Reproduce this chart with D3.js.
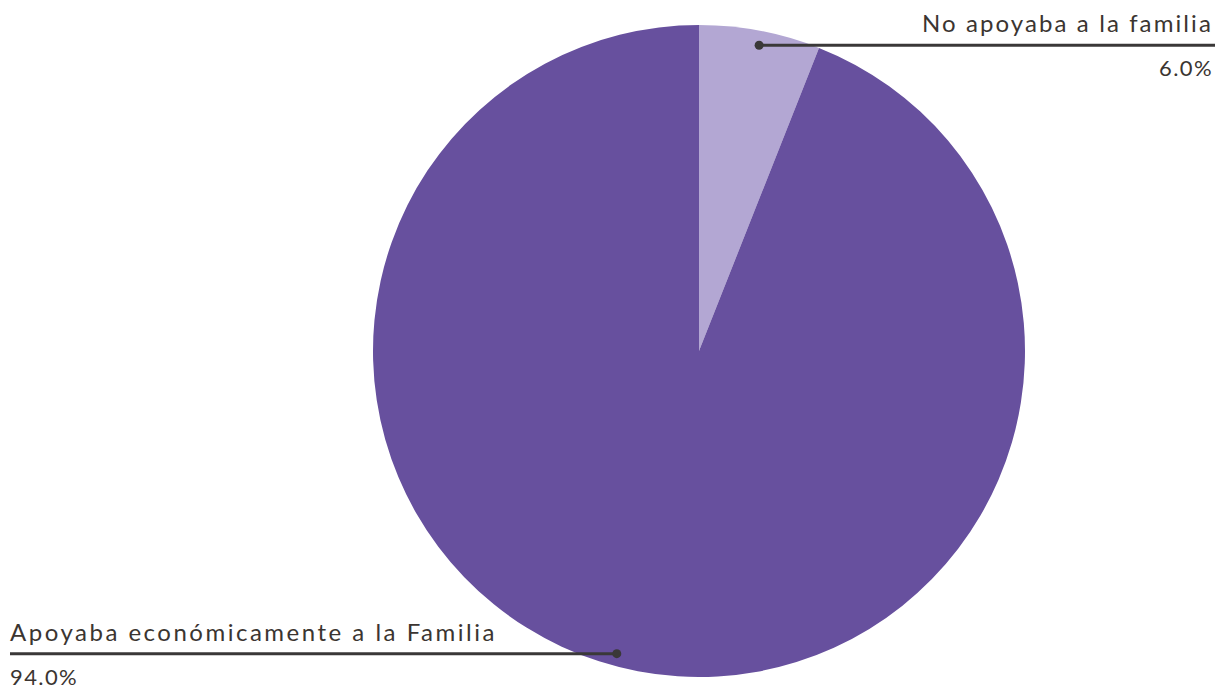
<!DOCTYPE html>
<html>
<head>
<meta charset="utf-8">
<script src="https://cdn.jsdelivr.net/npm/d3@7"></script>
<style>
  html, body { margin: 0; padding: 0; background: #fff; overflow: hidden; }
  svg { display: block; font-family: "Lato", "Noto Sans", sans-serif; }
</style>
</head>
<body>
<svg id="chart" width="1220" height="685"></svg>
<script>
// Shares of respondents by whether they supported their family
const categories = ["No apoyaba a la familia", "Apoyaba económicamente a la Familia"];
const values = [6.0, 94.0];
const valueLabels = ["6.0%", "94.0%"];
const colors = ["#b3a7d3", "#67509e"];
const footnote = "* Todos los encuestados trabajaban";

const svg = d3.select("#chart");
const cx = 699, cy = 351, R = 326;

const pie = d3.pie().sort(null).value(d => d)(values);
const arc = d3.arc().innerRadius(0).outerRadius(R);

const g = svg.append("g").attr("transform", `translate(${cx},${cy})`);
g.selectAll("path.slice")
  .data(pie)
  .join("path")
  .attr("class", "slice")
  .attr("d", arc)
  .attr("fill", (d, i) => colors[i]);

// Leader lines: dot inside each slice, horizontal rule out to the label
const lineColor = "#3a3838";
const textColor = "#3b3531";
const layout = [
  { side: "right", edge: 1215, textX: 1213, spacing: 2.1, angleFrac: 0.515, rFrac: 0.956 },
  { side: "left", edge: 10, textX: 10, spacing: 2.5, angleFrac: 0.513, rFrac: 0.962 }
];

pie.forEach((d, i) => {
  const L = layout[i];
  const a = d.startAngle + L.angleFrac * (d.endAngle - d.startAngle);
  const r = L.rFrac * R;
  const px = cx + r * Math.sin(a);
  const py = cy - r * Math.cos(a);
  svg.append("line")
    .attr("x1", px).attr("y1", py)
    .attr("x2", L.edge).attr("y2", py)
    .attr("stroke", lineColor).attr("stroke-width", 3);
  svg.append("circle")
    .attr("cx", px).attr("cy", py).attr("r", 4.5)
    .attr("fill", lineColor);
  const anchor = L.side === "right" ? "end" : "start";
  svg.append("text")
    .attr("x", L.textX).attr("y", py - 13)
    .attr("text-anchor", anchor)
    .attr("font-size", 24)
    .attr("letter-spacing", L.spacing)
    .attr("fill", textColor)
    .text(categories[i]);
  svg.append("text")
    .attr("x", L.textX).attr("y", py + 31)
    .attr("text-anchor", anchor)
    .attr("font-size", 22)
    .attr("letter-spacing", 1.4)
    .attr("fill", textColor)
    .text(valueLabels[i]);
});

svg.append("text")
  .attr("x", 938).attr("y", 697)
  .attr("font-size", 14)
  .attr("fill", "#8a8a8a")
  .text(footnote);
</script>
</body>
</html>
